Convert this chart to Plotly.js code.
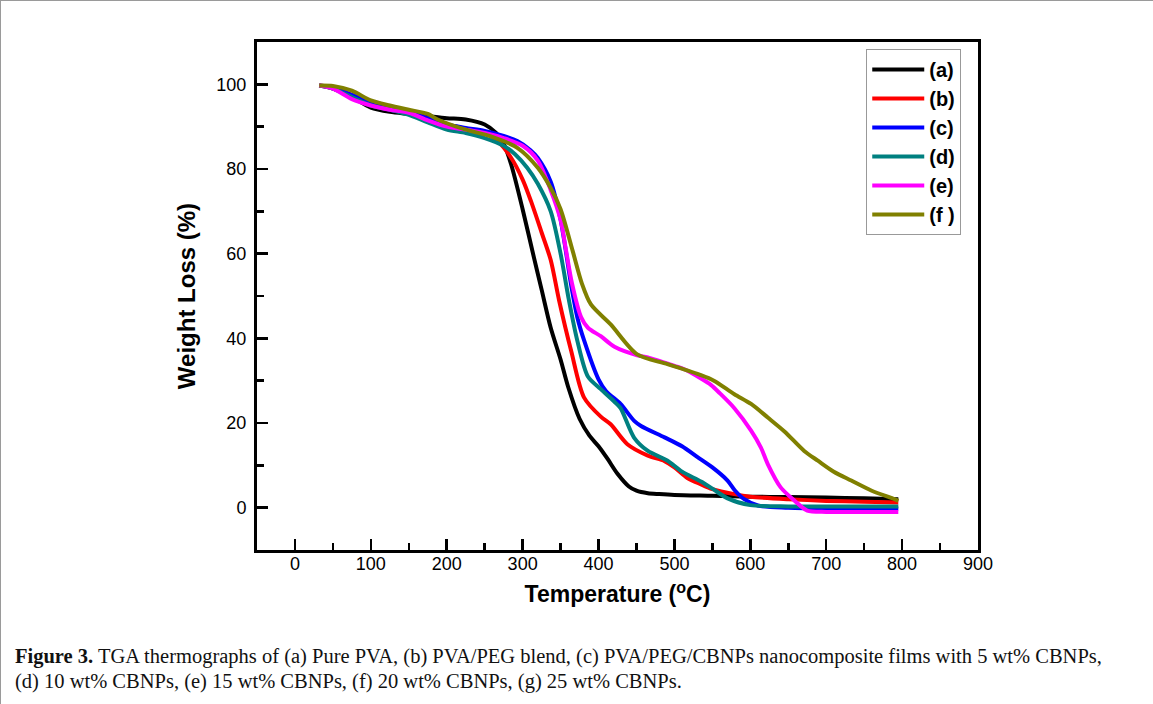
<!DOCTYPE html>
<html>
<head>
<meta charset="utf-8">
<script src="https://cdn.plot.ly/plotly-3.0.1.min.js"></script>
<style>
  html, body { margin: 0; padding: 0; background: #fff; }
  #chart { width: 1153px; height: 704px; box-sizing: border-box; border-top: 1px solid #9a9a9a; border-left: 1px solid #9a9a9a; }
</style>
</head>
<body>
<div id="chart"></div>
<script>
// Temperature (°C) / Weight Loss (%)
const tempA = [32, 50, 75, 100, 125, 150, 175, 200, 225, 250, 265, 275, 285, 300, 315, 325, 337, 350, 360, 375, 388, 400, 412, 425, 440, 450, 465, 480, 500, 550, 600, 650, 700, 750, 795];
const lossA = [99.7, 99.0, 97.0, 94.5, 93.5, 93.0, 92.5, 92.0, 91.7, 90.5, 88.5, 86.0, 81.0, 70.5, 59.0, 51.5, 42.5, 35.0, 28.5, 21.0, 17.0, 14.5, 11.5, 8.0, 5.0, 4.0, 3.4, 3.2, 3.0, 2.8, 2.6, 2.5, 2.4, 2.2, 2.0];

const tempB = [32, 50, 75, 100, 125, 150, 175, 200, 225, 250, 267, 285, 300, 311, 325, 337, 348, 364, 381, 403, 416, 438, 465, 487, 500, 517, 535, 550, 579, 600, 650, 700, 750, 795];
const lossB = [99.7, 99.2, 97.5, 95.5, 94.3, 93.5, 92.0, 90.5, 89.5, 88.5, 86.6, 82.6, 77.5, 72.4, 65.0, 58.5, 49.0, 37.0, 26.0, 21.5, 19.7, 15.0, 12.3, 11.0, 9.5, 7.0, 5.5, 4.4, 3.2, 2.6, 2.0, 1.6, 1.4, 1.2];

const tempC = [32, 50, 75, 100, 125, 150, 175, 200, 225, 250, 275, 293, 310, 320, 337, 350, 364, 372, 381, 400, 410, 429, 447, 456, 487, 510, 530, 550, 570, 580, 592, 610, 650, 700, 750, 795];
const lossC = [99.7, 99.3, 97.5, 95.5, 94.0, 93.3, 92.0, 90.5, 89.7, 89.0, 87.8, 86.6, 84.5, 82.6, 77.0, 68.0, 52.5, 45.0, 39.5, 30.3, 27.5, 24.5, 20.5, 19.3, 16.6, 14.5, 12.0, 9.5, 6.4, 4.0, 2.0, 0.5, 0.0, -0.2, -0.2, -0.2];

const tempD = [32, 50, 75, 100, 125, 150, 175, 200, 225, 250, 276, 290, 306, 320, 337, 350, 361, 372, 386, 403, 421, 429, 447, 465, 491, 510, 535, 550, 570, 600, 650, 700, 750, 795];
const lossD = [99.7, 99.0, 97.0, 95.0, 94.0, 92.8, 91.0, 89.3, 88.5, 87.3, 85.4, 83.5, 80.3, 76.5, 70.0, 60.0, 49.0, 39.5, 31.0, 28.0, 25.0, 23.5, 16.5, 13.4, 11.1, 8.5, 6.2, 4.5, 2.2, 0.6, 0.3, 0.3, 0.3, 0.3];

const tempE = [32, 50, 75, 100, 125, 150, 175, 200, 225, 250, 275, 300, 320, 337, 350, 357, 365, 377, 386, 403, 421, 451, 465, 500, 513, 535, 548, 560, 579, 601, 614, 623, 640, 658, 675, 700, 750, 795];
const lossE = [99.7, 99.0, 96.5, 95.0, 94.0, 93.3, 91.5, 90.0, 89.3, 88.5, 87.3, 85.5, 82.0, 75.0, 68.0, 61.0, 53.0, 45.0, 42.5, 40.5, 38.0, 36.0, 35.5, 33.5, 32.7, 30.5, 29.0, 27.0, 23.5, 18.2, 14.2, 10.3, 4.8, 1.7, -0.7, -1.0, -1.0, -1.0];

const tempF = [32, 50, 75, 100, 125, 150, 175, 188, 223, 258, 293, 320, 337, 350, 366, 378, 390, 416, 451, 491, 535, 552, 579, 601, 623, 645, 671, 689, 710, 733, 760, 790, 795];
const lossF = [99.7, 99.6, 98.5, 96.2, 95.0, 94.0, 93.0, 91.7, 89.4, 87.7, 85.0, 80.3, 75.5, 70.5, 60.6, 53.0, 48.0, 43.3, 36.2, 33.9, 31.3, 30.0, 26.8, 24.5, 21.3, 18.0, 13.4, 11.1, 8.5, 6.4, 4.0, 2.0, 1.6];

const seriesNames = ['(a)', '(b)', '(c)', '(d)', '(e)', '(f )'];
const seriesColors = ['#000000', '#ff0000', '#0000ff', '#008080', '#ff00ff', '#808000'];
const temps = [tempA, tempB, tempC, tempD, tempE, tempF];
const losses = [lossA, lossB, lossC, lossD, lossE, lossF];

const xTickVals = [0, 100, 200, 300, 400, 500, 600, 700, 800, 900];
const xMinorVals = [-50, 50, 150, 250, 350, 450, 550, 650, 750, 850];
const yTickVals = [0, 20, 40, 60, 80, 100];
const yMinorVals = [-10, 10, 30, 50, 70, 90, 110];

const captionLine1 = '<b>Figure 3.</b> TGA thermographs of (a) Pure PVA, (b) PVA/PEG blend, (c) PVA/PEG/CBNPs nanocomposite films with 5 wt% CBNPs,';
const captionLine2 = '(d) 10 wt% CBNPs, (e) 15 wt% CBNPs, (f) 20 wt% CBNPs, (g) 25 wt% CBNPs.';

const traces = seriesNames.map((n, i) => ({
  x: temps[i], y: losses[i], name: n, type: 'scatter', mode: 'lines',
  line: { color: seriesColors[i], width: 4, shape: 'spline', smoothing: 0.8 }
}));

const sans = 'Liberation Sans, Arial, sans-serif';
const axisCommon = {
  showline: true, linewidth: 3, linecolor: '#000', mirror: true,
  ticks: 'inside', ticklen: 11, tickwidth: 2.5, tickcolor: '#000',
  showgrid: false, zeroline: false,
  tickfont: { family: sans, size: 18, color: '#000' },
  minor: { ticks: 'inside', ticklen: 7, tickwidth: 2.5, tickcolor: '#000', showgrid: false }
};

const layout = {
  width: 1153, height: 704,
  margin: { l: 256, r: 176, t: 41, b: 155 },
  paper_bgcolor: '#fff', plot_bgcolor: '#fff',
  showlegend: true,
  xaxis: Object.assign({}, axisCommon, {
    range: [-50, 900], tickvals: xTickVals,
    minor: Object.assign({}, axisCommon.minor, { tickvals: xMinorVals }),
    ticklabelstandoff: -5,
    title: { text: 'Temperature (<sup>o</sup>C)', font: { family: sans, size: 23, color: '#000', weight: 'bold' }, standoff: 14 }
  }),
  yaxis: Object.assign({}, axisCommon, {
    range: [-10, 110], tickvals: yTickVals,
    minor: Object.assign({}, axisCommon.minor, { tickvals: yMinorVals }),
    ticklabelstandoff: 4,
    title: { text: 'Weight Loss (%)', font: { family: sans, size: 24, color: '#000', weight: 'bold' }, standoff: 14 }
  }),
  legend: {
    x: 0.845, y: 0.986, xanchor: 'left', yanchor: 'top',
    bgcolor: '#fff', bordercolor: '#999', borderwidth: 1,
    font: { family: sans, size: 20, color: '#000', weight: 'bold' },
    itemwidth: 52, tracegroupgap: 0
  },
  annotations: [
    { xref: 'paper', yref: 'paper', x: -0.3384, y: -0.2087, xanchor: 'left', yanchor: 'middle', showarrow: false, align: 'left',
      text: captionLine1, font: { family: 'Liberation Serif, Times New Roman, serif', size: 20.5, color: '#111' } },
    { xref: 'paper', yref: 'paper', x: -0.3384, y: -0.258, xanchor: 'left', yanchor: 'middle', showarrow: false, align: 'left',
      text: captionLine2, font: { family: 'Liberation Serif, Times New Roman, serif', size: 20.5, color: '#111' } }
  ]
};

Plotly.newPlot('chart', traces, layout, { displayModeBar: false, staticPlot: true });
</script>
</body>
</html>
